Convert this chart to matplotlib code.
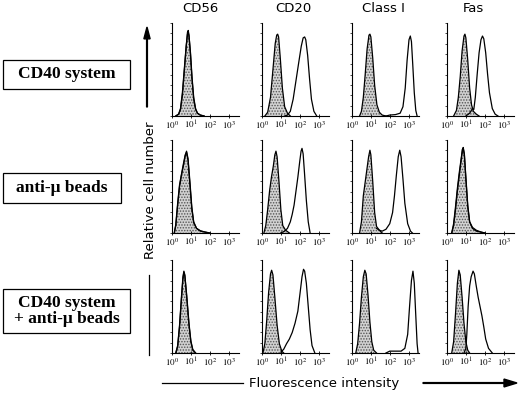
import numpy as np
from matplotlib import pyplot as plt
from matplotlib.patches import Rectangle

plt.rcParams['mathtext.fontset'] = 'stix'
plt.rcParams['hatch.linewidth'] = 0.7

markers = ["CD56", "CD20", "Class I", "Fas"]
conditions = ["CD40 system", "anti-\u03bc beads", "CD40 system\n+ anti-\u03bc beads"]
tick_labels = ["$10^{0}$", "$10^{1}$", "$10^{2}$", "$10^{3}$"]

# histogram outlines: (log10 intensity, relative count)
# row 1: CD40 system
r1_cd56_neg = [(0.2, 0), (0.35, 0.02), (0.45, 0.08), (0.55, 0.25), (0.65, 0.5), (0.75, 0.75), (0.82, 0.88),
               (0.86, 0.9), (0.9, 0.86), (0.98, 0.68), (1.06, 0.42), (1.15, 0.2), (1.25, 0.08), (1.35, 0.03),
               (1.5, 0.01), (1.7, 0)]
r1_cd56_pos = [(0.2, 0), (0.35, 0.02), (0.45, 0.07), (0.55, 0.22), (0.65, 0.48), (0.75, 0.74), (0.82, 0.9),
               (0.86, 0.92), (0.9, 0.87), (0.98, 0.66), (1.06, 0.4), (1.15, 0.18), (1.25, 0.07), (1.35, 0.03),
               (1.5, 0.01), (1.7, 0)]
r1_cd20_neg = [(0.15, 0), (0.3, 0.04), (0.45, 0.2), (0.58, 0.5), (0.7, 0.78), (0.78, 0.87), (0.83, 0.88),
               (0.88, 0.85), (0.97, 0.62), (1.08, 0.3), (1.2, 0.1), (1.35, 0.03), (1.5, 0)]
r1_cd20_pos = [(1.2, 0), (1.35, 0.01), (1.5, 0.05), (1.65, 0.18), (1.8, 0.38), (1.95, 0.58), (2.08, 0.75),
               (2.18, 0.84), (2.26, 0.85), (2.32, 0.82), (2.42, 0.65), (2.52, 0.4), (2.62, 0.18), (2.75, 0.05),
               (2.9, 0)]
r1_cls1_neg = [(0.4, 0), (0.5, 0.05), (0.6, 0.2), (0.7, 0.45), (0.8, 0.72), (0.9, 0.87), (0.95, 0.88),
               (1.0, 0.85), (1.1, 0.62), (1.2, 0.33), (1.32, 0.12), (1.45, 0.04), (1.6, 0.01), (1.8, 0)]
r1_cls1_pos = [(1.8, 0), (2.0, 0.01), (2.3, 0.015), (2.55, 0.03), (2.7, 0.1), (2.82, 0.3), (2.92, 0.6),
               (3.02, 0.82), (3.09, 0.86), (3.15, 0.8), (3.22, 0.55), (3.3, 0.25), (3.38, 0.06), (3.45, 0)]
r1_fas_neg = [(0.35, 0), (0.5, 0.06), (0.6, 0.2), (0.7, 0.42), (0.8, 0.7), (0.9, 0.86), (0.95, 0.88),
              (1.0, 0.84), (1.1, 0.6), (1.2, 0.3), (1.3, 0.12), (1.4, 0.05), (1.55, 0.02), (1.7, 0)]
r1_fas_pos = [(1.0, 0), (1.2, 0.03), (1.35, 0.08), (1.42, 0.07), (1.5, 0.2), (1.6, 0.45), (1.7, 0.68),
              (1.8, 0.82), (1.88, 0.86), (1.95, 0.83), (2.05, 0.68), (2.15, 0.45), (2.25, 0.25), (2.4, 0.08),
              (2.55, 0.02), (2.7, 0)]

# row 2: anti-mu beads
r2_cd56_neg = [(0.12, 0), (0.2, 0.08), (0.3, 0.3), (0.4, 0.5), (0.5, 0.62), (0.6, 0.72), (0.7, 0.83),
               (0.77, 0.88), (0.85, 0.8), (0.95, 0.55), (1.05, 0.28), (1.15, 0.12), (1.3, 0.05), (1.5, 0.02),
               (1.75, 0.01), (2.0, 0)]
r2_cd56_pos = [(0.12, 0), (0.2, 0.09), (0.3, 0.32), (0.4, 0.52), (0.5, 0.63), (0.6, 0.74), (0.7, 0.84),
               (0.77, 0.87), (0.85, 0.78), (0.95, 0.52), (1.05, 0.26), (1.15, 0.11), (1.3, 0.05), (1.5, 0.025),
               (1.75, 0.01), (2.0, 0)]
r2_cd20_neg = [(0.1, 0), (0.2, 0.08), (0.3, 0.25), (0.4, 0.45), (0.5, 0.6), (0.6, 0.72), (0.68, 0.84),
               (0.74, 0.88), (0.8, 0.82), (0.9, 0.55), (1.0, 0.25), (1.1, 0.08), (1.25, 0.03), (1.45, 0)]
r2_cd20_pos = [(1.0, 0), (1.2, 0.02), (1.35, 0.05), (1.5, 0.12), (1.6, 0.2), (1.7, 0.3), (1.8, 0.45),
               (1.9, 0.6), (2.0, 0.77), (2.07, 0.88), (2.12, 0.91), (2.18, 0.85), (2.25, 0.65), (2.35, 0.35),
               (2.45, 0.12), (2.55, 0)]
r2_cls1_neg = [(0.4, 0), (0.5, 0.12), (0.6, 0.4), (0.7, 0.55), (0.8, 0.7), (0.88, 0.82), (0.95, 0.89),
               (1.0, 0.84), (1.1, 0.55), (1.2, 0.22), (1.3, 0.07), (1.45, 0.03), (1.6, 0)]
r2_cls1_pos = [(1.3, 0.05), (1.45, 0.03), (1.6, 0.02), (1.8, 0.04), (2.0, 0.1), (2.15, 0.22), (2.25, 0.4),
               (2.35, 0.62), (2.45, 0.82), (2.53, 0.89), (2.6, 0.82), (2.7, 0.58), (2.8, 0.32), (2.95, 0.1),
               (3.1, 0.02), (3.2, 0)]
r2_fas_neg = [(0.25, 0), (0.35, 0.08), (0.45, 0.25), (0.55, 0.45), (0.65, 0.62), (0.75, 0.78), (0.82, 0.9),
              (0.86, 0.92), (0.92, 0.85), (1.0, 0.6), (1.1, 0.3), (1.2, 0.12), (1.35, 0.05), (1.55, 0.02),
              (1.8, 0.01), (2.0, 0)]
r2_fas_pos = [(0.25, 0), (0.35, 0.1), (0.45, 0.28), (0.55, 0.48), (0.65, 0.65), (0.75, 0.8), (0.82, 0.9),
              (0.86, 0.91), (0.92, 0.84), (1.0, 0.58), (1.1, 0.28), (1.2, 0.12), (1.35, 0.06), (1.55, 0.03),
              (1.8, 0.01), (2.0, 0)]

# row 3: CD40 system + anti-mu beads
r3_cd56_neg = [(0.2, 0), (0.3, 0.08), (0.4, 0.3), (0.5, 0.6), (0.58, 0.82), (0.63, 0.88), (0.68, 0.84),
               (0.78, 0.6), (0.9, 0.3), (1.0, 0.12), (1.1, 0.03), (1.25, 0)]
r3_cd56_pos = [(0.2, 0), (0.3, 0.07), (0.4, 0.28), (0.5, 0.58), (0.58, 0.8), (0.63, 0.87), (0.68, 0.83),
               (0.78, 0.62), (0.9, 0.32), (1.0, 0.13), (1.1, 0.04), (1.25, 0)]
r3_cd20_neg = [(0.05, 0), (0.15, 0.1), (0.25, 0.35), (0.35, 0.65), (0.45, 0.85), (0.51, 0.89), (0.58, 0.84),
               (0.68, 0.6), (0.8, 0.3), (0.92, 0.1), (1.05, 0.02), (1.15, 0)]
r3_cd20_pos = [(1.0, 0.01), (1.15, 0.04), (1.3, 0.1), (1.45, 0.15), (1.6, 0.22), (1.75, 0.32), (1.9, 0.45),
               (2.02, 0.65), (2.12, 0.82), (2.2, 0.9), (2.26, 0.88), (2.35, 0.75), (2.45, 0.5), (2.55, 0.25),
               (2.65, 0.08), (2.8, 0)]
r3_cls1_neg = [(0.2, 0), (0.3, 0.1), (0.4, 0.32), (0.5, 0.6), (0.6, 0.82), (0.68, 0.89), (0.75, 0.85),
               (0.85, 0.62), (0.95, 0.33), (1.05, 0.12), (1.15, 0.03), (1.3, 0)]
r3_cls1_pos = [(1.8, 0), (2.0, 0.02), (2.3, 0.02), (2.6, 0.02), (2.8, 0.05), (2.95, 0.2), (3.05, 0.5),
               (3.15, 0.78), (3.23, 0.88), (3.3, 0.75), (3.38, 0.4), (3.45, 0.1), (3.5, 0)]
r3_fas_neg = [(0.25, 0), (0.35, 0.12), (0.45, 0.42), (0.55, 0.75), (0.63, 0.89), (0.7, 0.84), (0.8, 0.6),
              (0.9, 0.32), (1.0, 0.12), (1.1, 0.03), (1.2, 0)]
r3_fas_pos = [(0.9, 0), (1.0, 0.05), (1.05, 0.2), (1.12, 0.5), (1.2, 0.72), (1.28, 0.82), (1.38, 0.88),
              (1.45, 0.85), (1.55, 0.72), (1.65, 0.6), (1.75, 0.5), (1.85, 0.4), (1.95, 0.28), (2.05, 0.15),
              (2.2, 0.05), (2.4, 0)]

panels = [
    [(r1_cd56_neg, r1_cd56_pos), (r1_cd20_neg, r1_cd20_pos), (r1_cls1_neg, r1_cls1_pos), (r1_fas_neg, r1_fas_pos)],
    [(r2_cd56_neg, r2_cd56_pos), (r2_cd20_neg, r2_cd20_pos), (r2_cls1_neg, r2_cls1_pos), (r2_fas_neg, r2_fas_pos)],
    [(r3_cd56_neg, r3_cd56_pos), (r3_cd20_neg, r3_cd20_pos), (r3_cls1_neg, r3_cls1_pos), (r3_fas_neg, r3_fas_pos)],
]

W, H = 520, 395
fig = plt.figure(figsize=(5.2, 3.95), dpi=100)

col_left = [172, 262, 352, 447]
row_bottom = [116, 233, 353]
pw, ph = 67, 93


def px_axes(x0, y_bottom, w, h):
    return fig.add_axes([x0 / W, 1 - y_bottom / H, w / W, h / H])


for i, row in enumerate(panels):
    for j, (neg, pos) in enumerate(row):
        ax = px_axes(col_left[j], row_bottom[i], pw, ph)
        nx = 10 ** np.array([p[0] for p in neg])
        ny = np.array([p[1] for p in neg])
        sx = 10 ** np.array([p[0] for p in pos])
        sy = np.array([p[1] for p in pos])
        ax.fill_between(nx, 0, ny, facecolor="#d2d2d2", edgecolor="#555555", hatch="......", linewidth=0)
        ax.plot(nx, ny, color="black", lw=0.9)
        ax.plot(sx, sy, color="black", lw=0.9)
        ax.set_xscale("log")
        ax.set_xlim(1, 10 ** 3.55)
        ax.set_ylim(0, 1.0)
        ax.set_xticks([1, 10, 100, 1000])
        ax.set_xticklabels(tick_labels, fontsize=6.5)
        ax.xaxis.set_minor_locator(plt.matplotlib.ticker.LogLocator(base=10, subs=np.arange(2, 10)))
        ax.xaxis.set_minor_formatter(plt.matplotlib.ticker.NullFormatter())
        ax.set_yticks(np.linspace(0, 1, 10))
        ax.set_yticklabels([])
        ax.tick_params(axis="x", which="major", length=2.5, width=0.6, pad=1, direction="inout")
        ax.tick_params(axis="x", which="minor", length=1.5, width=0.5, direction="inout")
        ax.tick_params(axis="y", length=1.5, width=0.5, direction="out")
        for s in ["top", "right"]:
            ax.spines[s].set_visible(False)
        for s in ["left", "bottom"]:
            ax.spines[s].set_linewidth(0.8)
        ax.patch.set_alpha(0)

# column headers
header_x = [200, 293, 383, 473]
for name, hx in zip(markers, header_x):
    fig.text(hx / W, 1 - 9 / H, name, ha="center", va="center", fontsize=9.5, family="DejaVu Sans")

# condition boxes on the left
boxes = [(3, 60, 127, 29), (3, 173, 118, 30), (3, 289, 127, 44)]
for label, (bx, by, bw, bh) in zip(conditions, boxes):
    fig.patches.append(Rectangle((bx / W, 1 - (by + bh) / H), bw / W, bh / H, transform=fig.transFigure,
                                 facecolor="white", edgecolor="black", lw=0.9))
    fig.text((bx + bw / 2) / W, 1 - (by + bh / 2) / H, label, ha="center", va="center", fontsize=12.5,
             family="Liberation Serif", weight="bold", linespacing=1.0)

# axis descriptions with arrows
fig.text(150 / W, 1 - 190 / H, "Relative cell number", rotation=90, ha="center", va="center", fontsize=9.5)
fig.add_artist(plt.Line2D([149 / W, 149 / W], [1 - 355 / H, 1 - 275 / H], color="black", lw=0.9))
fig.patches.append(plt.matplotlib.patches.FancyArrow(147 / W, 1 - 107 / H, 0, 80 / H, width=0.0015,
                                                     head_width=0.012, head_length=0.03, length_includes_head=True,
                                                     transform=fig.transFigure, color="black"))
fig.text(324 / W, 1 - 383 / H, "Fluorescence intensity", ha="center", va="center", fontsize=9.5)
fig.add_artist(plt.Line2D([162 / W, 243 / W], [1 - 383 / H, 1 - 383 / H], color="black", lw=0.9))
fig.patches.append(plt.matplotlib.patches.FancyArrow(423 / W, 1 - 383 / H, 94 / W, 0, width=0.002,
                                                     head_width=0.02, head_length=0.025, length_includes_head=True,
                                                     transform=fig.transFigure, color="black"))

fig.savefig("out.png", dpi=100)
